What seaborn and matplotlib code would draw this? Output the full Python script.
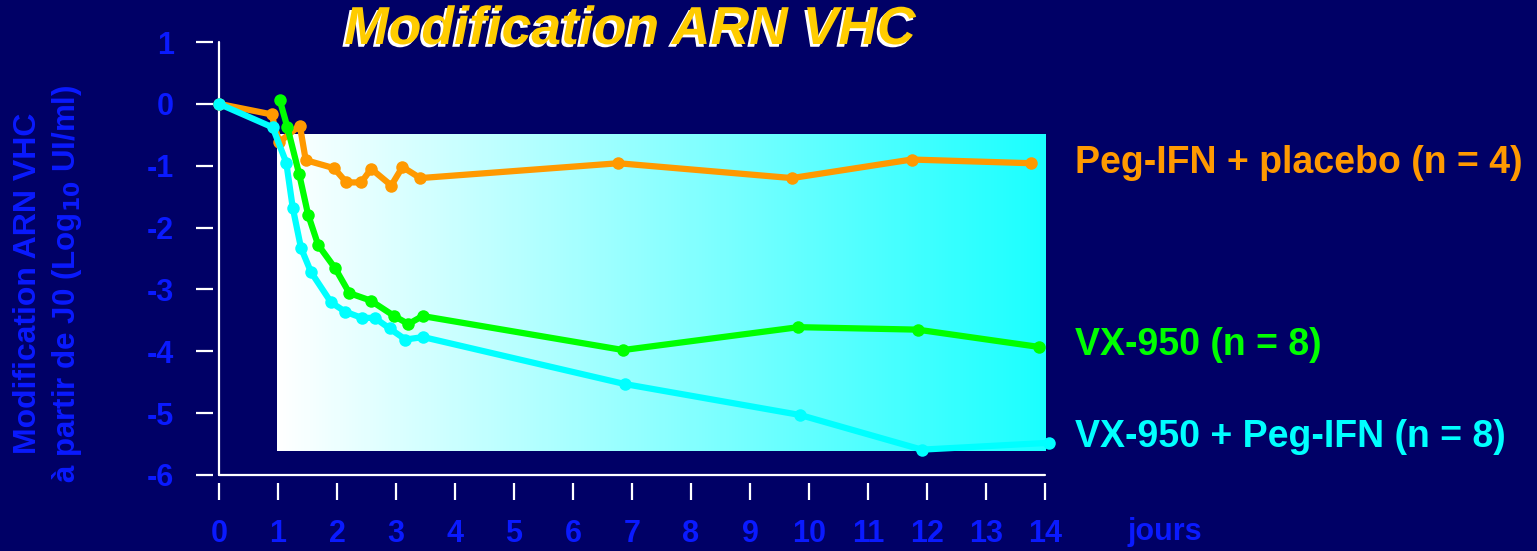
import numpy as np
import pandas as pd
import seaborn as sns
import matplotlib.pyplot as plt
import matplotlib.patheffects as pe
from matplotlib.colors import LinearSegmentedColormap

# Days and change in HCV RNA (log10 UI/ml)
placebo_days = [0, 0.89, 1.02, 1.37, 1.47, 1.95, 2.16, 2.41, 2.58, 2.92, 3.11, 3.41, 6.77, 9.71, 11.74, 13.77]
placebo_vals = [0, -0.17, -0.62, -0.35, -0.91, -1.04, -1.27, -1.27, -1.05, -1.32, -1.02, -1.20, -0.96, -1.20, -0.90, -0.96]

vx_days = [1.03, 1.16, 1.36, 1.51, 1.68, 1.97, 2.21, 2.57, 2.97, 3.21, 3.45, 6.85, 9.82, 11.84, 13.9]
vx_vals = [0.06, -0.38, -1.14, -1.79, -2.28, -2.66, -3.06, -3.18, -3.43, -3.56, -3.43, -3.98, -3.61, -3.65, -3.93]

combo_days = [0, 0.91, 1.14, 1.25, 1.39, 1.56, 1.90, 2.14, 2.42, 2.64, 2.89, 3.16, 3.46, 6.88, 9.85, 11.91, 14.06]
combo_vals = [0, -0.38, -0.95, -1.68, -2.33, -2.72, -3.21, -3.36, -3.46, -3.46, -3.63, -3.81, -3.77, -4.53, -5.03, -5.59, -5.48]

series_names = ['Peg-IFN + placebo (n = 4)', 'VX-950 (n = 8)', 'VX-950 + Peg-IFN (n = 8)']
series_colors = ['#FF9900', '#00FF00', '#00FFFF']

x_ticks = list(range(0, 15))
y_ticks = list(range(-6, 2))

df = pd.concat([
    pd.DataFrame({'jour': placebo_days, 'val': placebo_vals, 'groupe': series_names[0]}),
    pd.DataFrame({'jour': vx_days, 'val': vx_vals, 'groupe': series_names[1]}),
    pd.DataFrame({'jour': combo_days, 'val': combo_vals, 'groupe': series_names[2]}),
], ignore_index=True)

bg = '#000066'
blue = '#0A1AFF'

sns.set_style('white')
plt.rcParams['font.family'] = ['Liberation Sans', 'DejaVu Sans']
plt.rcParams['font.weight'] = 'bold'
plt.rcParams['axes.unicode_minus'] = False

W, H = 1537, 551
fig = plt.figure(figsize=(W / 100, H / 100), dpi=100, facecolor=bg)
ax = fig.add_axes([219 / W, (H - 475) / H, 826 / W, 433 / H], facecolor=bg)

# shaded treatment window (white -> cyan gradient)
cmap = LinearSegmentedColormap.from_list('wc', ['#FFFFFF', '#1AFFFF'])
grad = np.linspace(0, 1, 256).reshape(1, -1)
ax.imshow(grad, cmap=cmap, aspect='auto', extent=[0.98, 14.03, -5.61, -0.49], zorder=1)

# dotted baseline
ax.plot([0.15, 13.75], [0, 0], color='white', lw=4.3, ls=(0, (0, 2.7)),
        dash_capstyle='round', zorder=2)

sns.lineplot(data=df, x='jour', y='val', hue='groupe', hue_order=series_names,
             palette=series_colors, sort=False, estimator=None, ax=ax,
             lw=4.5, marker='o', markersize=9, markeredgewidth=0,
             clip_on=False, legend=False, zorder=3)

ax.set_xlim(0, 14)
ax.set_ylim(-6, 1)
ax.set_xticks(x_ticks)
ax.set_yticks(y_ticks)
ax.set_xlabel('')
ax.set_ylabel('')

# tick marks sit a little away from the axis lines
for s in ['top', 'right', 'bottom', 'left']:
    ax.spines[s].set_visible(False)
ax.spines['bottom'].set_position(('outward', 6))
ax.spines['left'].set_position(('outward', 4))
ax.axhline(-6, color='white', lw=1.6, clip_on=False, zorder=2)
ax.axvline(0, color='white', lw=1.6, clip_on=False, zorder=2)

ax.tick_params(axis='x', bottom=True, colors='white', length=12.5, width=1.6,
               direction='out', pad=13, labelcolor=blue, labelsize=22)
ax.tick_params(axis='y', left=True, colors='white', length=12.5, width=1.6,
               direction='out', pad=16, labelcolor=blue, labelsize=22)
for lab in ax.get_xticklabels() + ax.get_yticklabels():
    lab.set_fontweight('bold')

fig.text(1165 / W, 1 - 540 / H, 'jours', color=blue, fontsize=22,
         fontweight='bold', ha='center', va='baseline')

fig.text(28 / W, 1 - 283 / H, 'Modification ARN VHC', color=blue,
         fontsize=23, fontweight='bold', rotation=90, ha='center', va='center')
fig.text(67 / W, 1 - 284 / H, 'à partir de J0 (Log$_{\\mathbf{10}}$ UI/ml)', color=blue,
         fontsize=22.5, fontweight='bold', rotation=90, ha='center', va='center')

fig.text(630 / W, 1 - 30 / H, 'Modification ARN VHC', color='#FFCC00',
         fontsize=38.5, fontweight='bold', fontstyle='italic', ha='center', va='center',
         path_effects=[pe.withSimplePatchShadow(offset=(-2, -2), shadow_rgbFace='white', alpha=1.0)])

label_y = [163, 345, 437]
for name, color, yy in zip(series_names, series_colors, label_y):
    fig.text(1075 / W, 1 - yy / H, name, color=color, fontsize=27,
             fontweight='bold', ha='left', va='center')

fig.savefig('out.png', dpi=100, facecolor=bg)
